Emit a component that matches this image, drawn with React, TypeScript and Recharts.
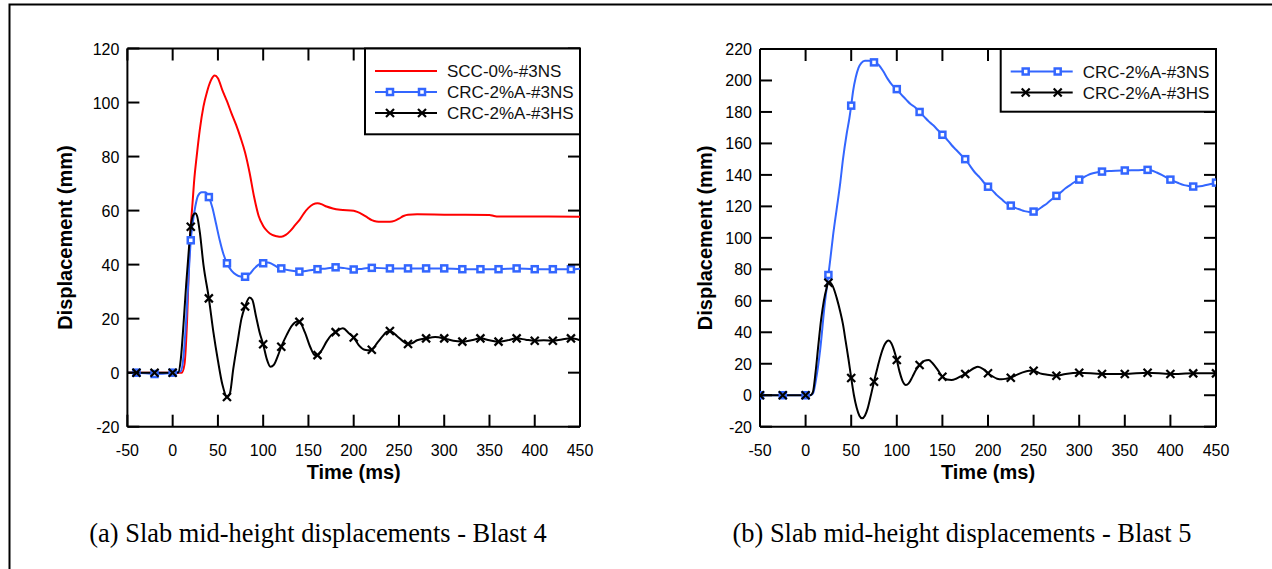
import React from 'react';
import { LineChart, Line, XAxis, YAxis, ReferenceLine } from 'recharts';

const SANS = 'Arial, "Liberation Sans", Helvetica, sans-serif';
const SERIF = '"Times New Roman", "Liberation Serif", Times, serif';

const RED = '#ff0000';
const BLUE = '#3366ff';
const BLACK = '#000000';

const xDomain = [-50, 450];
const xTicks = [-50, 0, 50, 100, 150, 200, 250, 300, 350, 400, 450];
const leftYTicks = [-20, 0, 20, 40, 60, 80, 100, 120];
const rightYTicks = [-20, 0, 20, 40, 60, 80, 100, 120, 140, 160, 180, 200, 220];

const xTitle = 'Time (ms)';
const yTitle = 'Displacement (mm)';
const captionA = '(a) Slab mid-height displacements - Blast 4';
const captionB = '(b) Slab mid-height displacements - Blast 5';
const leftNames = ['SCC-0%-#3NS', 'CRC-2%A-#3NS', 'CRC-2%A-#3HS'];
const rightNames = ['CRC-2%A-#3NS', 'CRC-2%A-#3HS'];

// ---- Blast 4 (left) ----
const sccTime = [-50, 0, 10, 13, 16, 18, 20, 22, 24, 26.5, 30, 34, 38, 42, 46.5, 50, 55, 60, 65, 70, 75, 80, 85, 90, 95, 100, 105, 110, 115, 120, 125, 130, 135, 140, 145, 150, 155, 160, 165, 170, 177, 185, 200, 210, 215, 220, 225, 230, 240, 245, 250, 255, 260, 270, 300, 350, 355, 360, 400, 450];
const sccDisp = [0, 0, 0, 3, 20, 40, 54, 63, 72, 80, 90, 98.5, 104, 108, 110, 109, 104.5, 100.5, 96, 91.8, 87, 81.5, 74, 65, 58, 54.3, 52.2, 51, 50.5, 50.3, 51, 52.5, 54.5, 56.5, 59, 61, 62.3, 62.7, 62.3, 61.5, 60.8, 60.3, 59.9, 58.5, 57.5, 56.5, 56, 55.9, 55.9, 56.2, 57, 58, 58.5, 58.6, 58.5, 58.4, 58, 57.8, 57.8, 57.7];

const crcNsBlast4Time = [-50, -40, -20, 0, 9, 12, 15, 18, 20, 22, 25, 28, 32, 36, 40, 44, 48, 52, 56, 60, 65, 70, 75, 80, 85, 90, 95, 100, 105, 110, 115, 120, 130, 140, 150, 160, 170, 180, 190, 200, 210, 220, 240, 260, 280, 300, 320, 340, 360, 380, 400, 420, 440, 450];
const crcNsBlast4Disp = [0, 0, -0.5, 0, 0.5, 6, 20, 38, 49, 55, 61.5, 65.5, 66.8, 66.8, 65, 61, 55, 49, 44, 40.5, 37.8, 36.3, 35.6, 35.5, 36.5, 38.5, 40, 40.5, 40.8, 40.2, 39.2, 38.6, 37.8, 37.4, 37.8, 38.3, 38.6, 39, 38.7, 38.2, 38.5, 38.8, 38.6, 38.6, 38.6, 38.6, 38.3, 38.3, 38.3, 38.6, 38.3, 38.3, 38.3, 38.5];

const crcHsBlast4Time = [-50, -40, -20, 0, 6, 9, 12, 15, 18, 20, 23, 25, 27, 30, 34, 40, 45, 50, 55, 60, 63, 67, 72, 76, 80, 85, 88, 92, 96, 100, 104, 108, 112, 116, 120, 126, 132, 138, 140, 146, 152, 157, 160, 165, 170, 175, 180, 188, 195, 200, 206, 212, 218, 220, 226, 232, 236, 240, 248, 255, 260, 265, 270, 280, 290, 300, 310, 320, 330, 340, 350, 360, 370, 380, 390, 400, 410, 420, 430, 440, 450];
const crcHsBlast4Disp = [0, 0, 0, 0, 0, 5, 18, 33, 46, 54, 58.5, 59, 58, 52, 40, 27.5, 15, 4.5, -4.5, -9, -8, 1.5, 12, 20, 24.5, 27.8, 27, 21, 15, 10.5, 5, 2.2, 3, 6, 9.6, 14, 17.5, 18.9, 18.8, 15, 9.5, 6.5, 6.5, 8.5, 11.5, 13.8, 15, 16.4, 14.5, 13, 10, 8.5, 8.3, 8.5, 11, 13.5, 15, 15.4, 13.5, 11.5, 10.6, 11, 12, 12.7, 13.2, 12.7, 11.8, 11.5, 12, 12.7, 12, 11.5, 12, 12.7, 12.2, 11.8, 12, 11.8, 12.3, 12.7, 12];

const leftMarkTimes = [-40, -20, 0, 20, 40, 60, 80, 100, 120, 140, 160, 180, 200, 220, 240, 260, 280, 300, 320, 340, 360, 380, 400, 420, 440];

// ---- Blast 5 (right) ----
const crcNsBlast5Time = [-50, -25, 0, 5, 8, 12, 16, 21, 25, 27, 30, 34, 38, 41, 45, 48, 50, 52, 55, 58, 61, 65, 70, 75, 80, 85, 90, 95, 100, 105, 110, 115, 120, 125, 130, 135, 140, 145, 150, 155, 160, 165, 170, 175, 180, 185, 190, 195, 200, 205, 210, 215, 220, 225, 230, 235, 240, 245, 250, 255, 260, 265, 270, 275, 280, 285, 290, 295, 300, 305, 310, 315, 320, 325, 335, 350, 365, 375, 385, 392, 400, 408, 415, 420, 425, 435, 443, 450];
const crcNsBlast5Disp = [0, 0, 0, 0, 1, 12, 29, 58, 76.4, 86, 101, 118, 135, 150, 166, 176, 184, 193, 202, 208, 211, 212.5, 212.5, 211.5, 210, 206, 201, 197, 194.5, 191, 188, 185, 183, 180, 177, 174, 171.5, 168.5, 165.5, 162.5, 159, 156, 153, 150, 146, 142, 139, 135.5, 132.5, 130, 127, 124.5, 122, 120.5, 119, 118, 117, 116.5, 116.7, 118, 120, 122, 124.5, 126.7, 129, 131.5, 133.5, 135.5, 137, 138.5, 140, 141, 141.7, 142.1, 142.5, 142.8, 143, 143.2, 141.5, 139.5, 137, 135, 133.5, 133, 132.6, 133, 134, 135.1];

const crcHsBlast5Time = [-50, -25, 0, 5, 8, 11, 14, 17, 20, 23, 25, 27, 30, 34, 38, 41, 44, 47, 50, 53, 56, 59, 62, 65, 68, 71, 75, 79, 83, 87, 91, 94, 97, 100, 103, 106, 110, 113, 117, 121, 125, 130, 135, 139, 145, 150, 155, 160, 165, 170, 175, 180, 185, 189, 195, 200, 205, 210, 215, 220, 225, 230, 238, 245, 250, 257, 265, 275, 285, 300, 325, 350, 375, 400, 425, 450];
const crcHsBlast5Disp = [0, 0, 0, 0, 2, 15, 32, 48, 60, 68, 71.5, 71.5, 69, 62, 53, 45, 34, 23, 11, 0, -8, -13, -14.7, -13, -8.5, -1.5, 8.6, 18, 26.5, 32.5, 34.7, 33, 28.5, 22.4, 15, 9.5, 6.5, 7.5, 11.5, 16, 19.2, 21.8, 22.4, 20.5, 16, 11.8, 10, 9.7, 10.5, 12, 13.5, 15.5, 17.3, 18.1, 16.5, 14, 12, 10.5, 10.1, 10.5, 11.1, 12.5, 14.5, 15.5, 15.6, 13.9, 13, 12.4, 13.5, 14.3, 13.5, 13.5, 14.3, 13.5, 13.9, 13.9];

const rightMarkTimes = [-50, -25, 0, 25, 50, 75, 100, 125, 150, 175, 200, 225, 250, 275, 300, 325, 350, 375, 400, 425, 450];

const toRows = (t: number[], v: number[]) => t.map((x, i) => ({ t: x, v: v[i] }));

type MarkerKind = 'none' | 'square' | 'x';

const Marker = ({ cx, cy, kind, color }: { cx: number; cy: number; kind: MarkerKind; color: string }) => {
  if (kind === 'square') {
    return <rect x={cx - 3} y={cy - 3} width={6} height={6} fill="#fff" stroke={color} strokeWidth={2.5} />;
  }
  if (kind === 'x') {
    return (
      <g stroke={color} strokeWidth={2.2}>
        <line x1={cx - 4} y1={cy - 4} x2={cx + 4} y2={cy + 4} />
        <line x1={cx - 4} y1={cy + 4} x2={cx + 4} y2={cy - 4} />
      </g>
    );
  }
  return null;
};

const TICK_PX = 12;
const Y_AXIS_W = 60;
const X_AXIS_H = 40;

const BottomTick = (p: any) => (
  <text x={p.x} y={p.y + 29} textAnchor="middle" fontFamily={SANS} fontSize={16} fill="#000">
    {p.payload.value}
  </text>
);
const LeftTick = (p: any) => (
  <text x={p.x - 8} y={p.y + 6} textAnchor="end" fontFamily={SANS} fontSize={16} fill="#000">
    {p.payload.value}
  </text>
);

type Series = { name: string; rows: { t: number; v: number }[]; color: string; kind: MarkerKind };
type Margin = { top: number; right: number; bottom: number; left: number };

const axisLine = { stroke: '#000', strokeWidth: 2 };

function plotBox(offsetX: number, width: number, height: number, m: Margin) {
  const left = offsetX + m.left + Y_AXIS_W;
  const right = offsetX + width - m.right;
  const top = m.top;
  const bottom = height - m.bottom - X_AXIS_H;
  return { left, right, top, bottom };
}

// inward frame ticks on all four sides (axis decoration, same linear mapping as the axes)
function FrameTicks({ box, yDomain, yTicks }: any) {
  const sx = (t: number) => box.left + ((t - xDomain[0]) / (xDomain[1] - xDomain[0])) * (box.right - box.left);
  const sy = (v: number) => box.bottom - ((v - yDomain[0]) / (yDomain[1] - yDomain[0])) * (box.bottom - box.top);
  return (
    <g stroke="#000" strokeWidth={2}>
      {xTicks.map((t) => (
        <g key={`x${t}`}>
          <line x1={sx(t)} y1={box.bottom} x2={sx(t)} y2={box.bottom - TICK_PX} />
          <line x1={sx(t)} y1={box.top} x2={sx(t)} y2={box.top + TICK_PX} />
        </g>
      ))}
      {yTicks.map((v: number) => (
        <g key={`y${v}`}>
          <line x1={box.left} y1={sy(v)} x2={box.left + TICK_PX} y2={sy(v)} />
          <line x1={box.right} y1={sy(v)} x2={box.right - TICK_PX} y2={sy(v)} />
        </g>
      ))}
    </g>
  );
}

function Panel({ width, height, margin, yDomain, yTicks, series, markTimes }: any) {
  return (
    <LineChart width={width} height={height} margin={margin}>
      <XAxis xAxisId="b" dataKey="t" type="number" domain={xDomain} ticks={xTicks} interval={0} allowDataOverflow orientation="bottom" height={X_AXIS_H} axisLine={axisLine} tickLine={false} tickSize={0} tickMargin={0} tick={BottomTick} />
      <YAxis yAxisId="l" type="number" domain={yDomain} ticks={yTicks} interval={0} allowDataOverflow orientation="left" width={Y_AXIS_W} axisLine={axisLine} tickLine={false} tickSize={0} tickMargin={0} tick={LeftTick} />
      <ReferenceLine xAxisId="b" yAxisId="l" x={xDomain[1]} stroke="#000" strokeWidth={2} />
      <ReferenceLine xAxisId="b" yAxisId="l" y={yDomain[1]} stroke="#000" strokeWidth={2} />
      {series.map((s: Series, si: number) => (
        <Line
          key={si}
          xAxisId="b"
          yAxisId="l"
          data={s.rows}
          dataKey="v"
          name={s.name}
          type="monotone"
          stroke={s.color}
          strokeWidth={2}
          activeDot={false}
          isAnimationActive={false}
          dot={(p: any) =>
            s.kind !== 'none' && markTimes.includes(p.payload.t) ? (
              <g key={`m${si}-${p.index}`}>
                <Marker cx={p.cx} cy={p.cy} kind={s.kind} color={s.color} />
              </g>
            ) : (
              <g key={`m${si}-${p.index}`} />
            )
          }
        />
      ))}
    </LineChart>
  );
}

function LegendBox({ x, y, w, h, items }: { x: number; y: number; w: number; h: number; items: Series[] }) {
  return (
    <g>
      <rect x={x} y={y} width={w} height={h} fill="#fff" stroke="#000" strokeWidth={2} />
      {items.map((s, i) => {
        const ry = y + 22.5 + i * 21;
        return (
          <g key={i}>
            <line x1={x + 10} y1={ry} x2={x + 72} y2={ry} stroke={s.color} strokeWidth={2} />
            <Marker cx={x + 25} cy={ry} kind={s.kind} color={s.color} />
            <Marker cx={x + 57} cy={ry} kind={s.kind} color={s.color} />
            <text x={x + 82} y={ry + 6} fontFamily={SANS} fontSize={17} fill="#111">
              {s.name}
            </text>
          </g>
        );
      })}
    </g>
  );
}

const LEFT_W = 640;
const RIGHT_W = 632;
const H = 569;
const leftMargin: Margin = { top: 48.5, right: 60, bottom: 102.3, left: 67.4 };
const rightMargin: Margin = { top: 49, right: 56, bottom: 102.3, left: 60 };
const leftYDomain = [-20, 120];
const rightYDomain = [-20, 220];

export default function App() {
  const leftSeries: Series[] = [
    { name: leftNames[0], rows: toRows(sccTime, sccDisp), color: RED, kind: 'none' },
    { name: leftNames[1], rows: toRows(crcNsBlast4Time, crcNsBlast4Disp), color: BLUE, kind: 'square' },
    { name: leftNames[2], rows: toRows(crcHsBlast4Time, crcHsBlast4Disp), color: BLACK, kind: 'x' },
  ];
  const rightSeries: Series[] = [
    { name: rightNames[0], rows: toRows(crcNsBlast5Time, crcNsBlast5Disp), color: BLUE, kind: 'square' },
    { name: rightNames[1], rows: toRows(crcHsBlast5Time, crcHsBlast5Disp), color: BLACK, kind: 'x' },
  ];
  const leftBox = plotBox(0, LEFT_W, H, leftMargin);
  const rightBox = plotBox(LEFT_W, RIGHT_W, H, rightMargin);

  return (
    <div style={{ position: 'absolute', left: 0, top: 0, width: 1272, height: H, overflow: 'hidden', background: '#fff', fontFamily: SANS }}>
      <div style={{ position: 'absolute', left: 0, top: 0 }}>
        <Panel width={LEFT_W} height={H} margin={leftMargin} yDomain={leftYDomain} yTicks={leftYTicks} series={leftSeries} markTimes={leftMarkTimes} />
      </div>
      <div style={{ position: 'absolute', left: LEFT_W, top: 0 }}>
        <Panel width={RIGHT_W} height={H} margin={rightMargin} yDomain={rightYDomain} yTicks={rightYTicks} series={rightSeries} markTimes={rightMarkTimes} />
      </div>
      <svg width={1272} height={H} style={{ position: 'absolute', left: 0, top: 0, pointerEvents: 'none' }}>
        <rect x={9.5} y={4.5} width={1400} height={700} fill="none" stroke="#000" strokeWidth={2} />
        <FrameTicks box={leftBox} yDomain={leftYDomain} yTicks={leftYTicks} />
        <FrameTicks box={rightBox} yDomain={rightYDomain} yTicks={rightYTicks} />
        <LegendBox x={365} y={48.5} w={215} h={85.8} items={leftSeries} />
        <LegendBox x={1000.7} y={49} w={215.3} h={62.7} items={rightSeries} />
        <text x={353.7} y={479} textAnchor="middle" fontFamily={SANS} fontWeight="bold" fontSize={20} fill="#000">{xTitle}</text>
        <text x={988} y={479} textAnchor="middle" fontFamily={SANS} fontWeight="bold" fontSize={20} fill="#000">{xTitle}</text>
        <text x={0} y={0} transform="translate(72,237.6) rotate(-90)" textAnchor="middle" fontFamily={SANS} fontWeight="bold" fontSize={20} fill="#000">{yTitle}</text>
        <text x={0} y={0} transform="translate(712,237.9) rotate(-90)" textAnchor="middle" fontFamily={SANS} fontWeight="bold" fontSize={20} fill="#000">{yTitle}</text>
        <text x={318} y={542} textAnchor="middle" fontFamily={SERIF} fontSize={26.4} fill="#000">{captionA}</text>
        <text x={962} y={542} textAnchor="middle" fontFamily={SERIF} fontSize={26.4} fill="#000">{captionB}</text>
      </svg>
    </div>
  );
}
